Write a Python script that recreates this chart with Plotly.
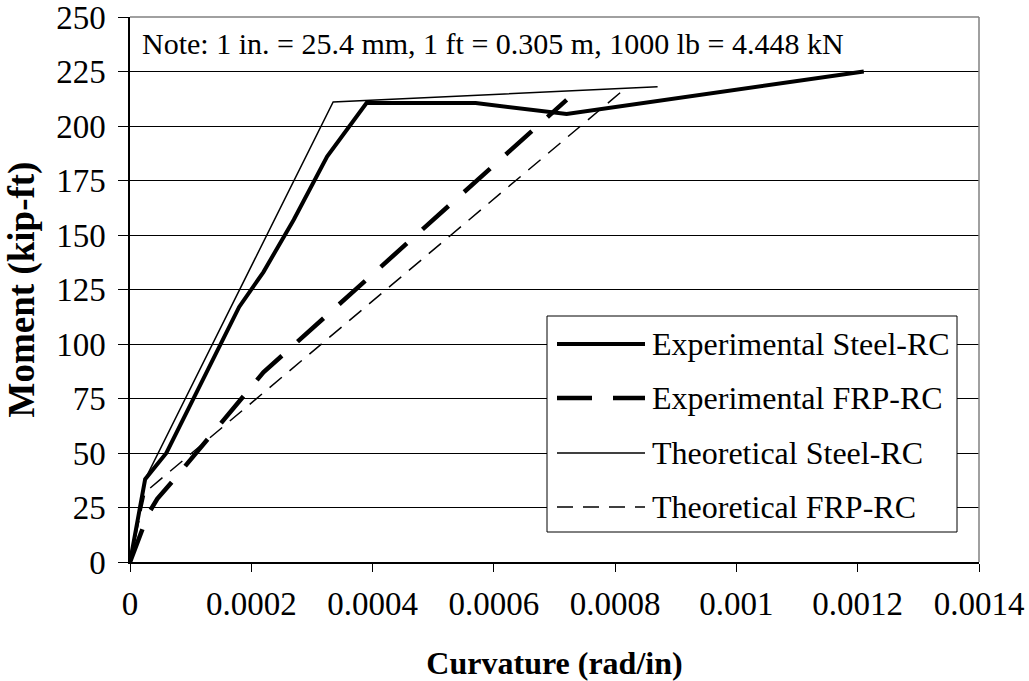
import plotly.graph_objects as go

# Data (curvature rad/in, moment kip-ft)
exp_steel_x = [0, 0.000025, 0.00006, 0.00018, 0.00022, 0.00027, 0.000325, 0.00039, 0.00057, 0.00072, 0.00121]
exp_steel_y = [0, 38, 50, 117, 133, 157, 186, 210.5, 210.5, 205.5, 225]

exp_frp_x = [0, 0.00003, 0.000045, 0.00007, 0.00022, 0.00072]
exp_frp_y = [0, 22, 29, 37, 87, 212]

theo_steel_x = [0, 0.000025, 0.000335, 0.00087]
theo_steel_y = [0, 38, 211, 218]

theo_frp_x = [0, 0.000025, 0.00082]
theo_frp_y = [0, 32, 218]

series_names = ["Experimental Steel-RC", "Experimental FRP-RC", "Theoretical Steel-RC", "Theoretical FRP-RC"]
x_ticks = [0, 0.0002, 0.0004, 0.0006, 0.0008, 0.001, 0.0012, 0.0014]
x_tick_text = ["0", "0.0002", "0.0004", "0.0006", "0.0008", "0.001", "0.0012", "0.0014"]
y_ticks = [0, 25, 50, 75, 100, 125, 150, 175, 200, 225, 250]
note_text = "Note: 1 in. = 25.4 mm, 1 ft = 0.305 m, 1000 lb = 4.448 kN"

FONT = "Liberation Serif"
styles = [
    dict(color="black", width=4, dash="solid"),
    dict(color="black", width=4.5, dash="35px,21px"),
    dict(color="black", width=1.5, dash="solid"),
    dict(color="black", width=1.5, dash="16px,10px"),
]

fig = go.Figure()
for (xs, ys), name, st in zip(
    [(exp_steel_x, exp_steel_y), (exp_frp_x, exp_frp_y), (theo_steel_x, theo_steel_y), (theo_frp_x, theo_frp_y)],
    series_names, styles):
    fig.add_trace(go.Scatter(x=xs, y=ys, mode="lines", name=name, line=st, showlegend=False))

W, H = 1029, 681
L, R, T, B = 130, 50, 17, 119
pw, ph = W - L - R, H - T - B

# helpers converting page pixel coords to paper coords
def px(xp):
    return (xp - L) / pw

def py(yp):
    return (H - B - yp) / ph

shapes = []
annotations = []
shapes.append(dict(type="line", xref="paper", yref="paper", x0=0, x1=1, y0=1, y1=1, line=dict(color="#808080", width=1.5), layer="above"))
shapes.append(dict(type="line", xref="paper", yref="paper", x0=1, x1=1, y0=0, y1=1, line=dict(color="#808080", width=1.5), layer="above"))

# manual legend
lx0, lx1, ly0, ly1 = 547, 957, 316, 532
shapes.append(dict(type="rect", xref="paper", yref="paper", x0=px(lx0), x1=px(lx1), y0=py(ly1), y1=py(ly0),
                   line=dict(color="black", width=1), fillcolor="white", layer="above"))
row_y = [344, 398, 453, 507]
for name, st, yy in zip(series_names, styles, row_y):
    shapes.append(dict(type="line", xref="paper", yref="paper", x0=px(557), x1=px(645), y0=py(yy), y1=py(yy),
                       line=dict(color=st["color"], width=st["width"], dash=st["dash"]), layer="above"))
    annotations.append(dict(xref="paper", yref="paper", x=px(650), y=py(yy), text=name, showarrow=False,
                            xanchor="left", yanchor="middle", font=dict(family=FONT, size=32, color="black")))

annotations.append(dict(xref="paper", yref="paper", x=px(140), y=py(43), text=note_text, showarrow=False,
                        xanchor="left", yanchor="middle", font=dict(family=FONT, size=30, color="black")))

fig.update_layout(
    width=W, height=H,
    margin=dict(l=L, r=R, t=T, b=B, autoexpand=False),
    paper_bgcolor="white", plot_bgcolor="white",
    font=dict(family=FONT, size=33, color="black"),
    shapes=shapes, annotations=annotations,
    showlegend=False,
)
fig.update_xaxes(
    range=[0, 0.0014], tickvals=x_ticks, ticktext=x_tick_text,
    showgrid=False, zeroline=False, showline=True, linecolor="black", linewidth=1.5,
    ticks="outside", ticklen=8, tickcolor="black", ticklabelstandoff=4,
    title=dict(text="<b>Curvature (rad/in)</b>", font=dict(family=FONT, size=32), standoff=31),
    automargin=False,
)
fig.update_yaxes(
    range=[0, 250], tickvals=y_ticks,
    showgrid=True, gridcolor="black", gridwidth=1, zeroline=False,
    showline=True, linecolor="black", linewidth=1.5,
    ticks="outside", ticklen=10, tickcolor="black", ticklabelstandoff=6,
    ticklabeloverflow="allow",
    title=dict(text="<b>Moment (kip-ft)</b>", font=dict(family=FONT, size=37), standoff=10),
    automargin=False,
)

fig.write_html("out.html", config={"displayModeBar": False},
               post_script="document.body.style.margin='0';")
